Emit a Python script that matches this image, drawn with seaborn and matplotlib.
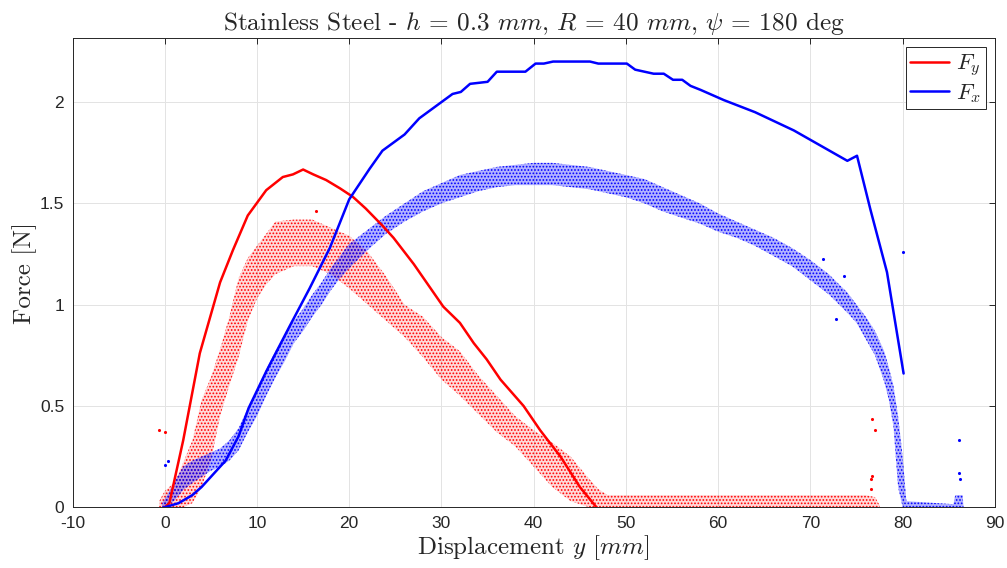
import numpy as np
import pandas as pd
import matplotlib
matplotlib.use('Agg')
import matplotlib.pyplot as plt
import seaborn as sns

# model curves (displacement in mm, force in N)
fy_x = [0, 0.5, 2.0, 3.8, 6.0, 7.4, 9.0, 11.0, 12.8, 13.9, 15.0, 16.1, 17.5, 19.0,
        20.4, 21.8, 23.6, 24.8, 27.0, 30.2, 32.0, 33.5, 34.9, 36.4, 38.9, 40.7,
        42.9, 45.0, 46.8]
fy_f = [0, 0.02, 0.33, 0.76, 1.11, 1.27, 1.44, 1.565, 1.63, 1.643, 1.667, 1.643,
        1.615, 1.574, 1.532, 1.474, 1.39, 1.33, 1.20, 0.99, 0.91, 0.81, 0.73, 0.63,
        0.50, 0.38, 0.25, 0.10, 0.0]

fx_x = [0, 1.5, 3.0, 4.0, 5.0, 6.6, 8.0, 9.1, 11.0, 13.5, 15.7, 17.9, 20.0, 22.2,
        23.6, 25.1, 26.0, 27.6, 29.1, 31.2, 32.1, 33.1, 35.0, 36.0, 39.1, 40.2,
        41.1, 42.1, 46.1, 47.0, 50.1, 51.0, 53.0, 54.1, 55.1, 56.1, 57.0, 58.1,
        60.6, 64.0, 68.2, 74.0, 75.05, 76.5, 78.3, 80.1]
fx_f = [0, 0.02, 0.06, 0.10, 0.15, 0.23, 0.35, 0.49, 0.67, 0.89, 1.08, 1.28, 1.52,
        1.67, 1.76, 1.81, 1.84, 1.92, 1.97, 2.04, 2.05, 2.09, 2.10, 2.15, 2.15, 2.19,
        2.19, 2.20, 2.20, 2.19, 2.19, 2.16, 2.14, 2.14, 2.11, 2.11, 2.08, 2.06,
        2.01, 1.95, 1.86, 1.71, 1.735, 1.47, 1.16, 0.66]

# measured scatter clouds: lower / upper edge of the band of points
red_x = [-0.6, 0, 1, 2, 3, 4, 5, 6, 7, 8, 9, 10, 11, 12, 14, 16, 18, 20, 22, 24,
         26, 28, 30, 32, 34, 36, 38, 40, 42, 44, 46, 47, 48, 60, 70, 76, 77, 77.5]
red_lo = [0, 0, 0, 0, 0.02, 0.10, 0.23, 0.45, 0.60, 0.74, 0.92, 1.03, 1.10, 1.15,
          1.19, 1.19, 1.15, 1.08, 1.00, 0.92, 0.84, 0.74, 0.63, 0.55, 0.46, 0.37,
          0.30, 0.20, 0.10, 0.03, 0, 0, 0, 0, 0, 0, 0, 0]
red_hi = [0.03, 0.08, 0.12, 0.22, 0.33, 0.53, 0.64, 0.78, 0.94, 1.13, 1.23, 1.29,
          1.35, 1.41, 1.42, 1.42, 1.38, 1.34, 1.26, 1.14, 1.00, 0.94, 0.84, 0.77,
          0.65, 0.55, 0.45, 0.38, 0.32, 0.25, 0.14, 0.09, 0.06, 0.06, 0.06, 0.06,
          0.05, 0.01]

blue_x = [-0.3, 0, 1, 2, 3, 4, 5, 6, 7, 8, 9, 10, 11, 12, 13, 14, 15, 16, 17, 18,
          19, 20, 22, 24, 26, 28, 30, 32, 34, 36, 38, 40, 42, 44, 46, 48, 50, 52,
          54, 56, 58, 60, 62, 64, 66, 68, 70, 72, 74, 75, 76, 77, 78, 78.5, 79,
          79.5, 80, 80.4, 85.5, 85.7, 86.5, 86.6]
blue_lo = [0, 0, 0.03, 0.085, 0.12, 0.15, 0.18, 0.20, 0.23, 0.28, 0.37, 0.45, 0.55,
           0.64, 0.72, 0.81, 0.87, 0.94, 1.00, 1.07, 1.13, 1.18, 1.27, 1.35, 1.41,
           1.46, 1.50, 1.53, 1.56, 1.58, 1.59, 1.59, 1.59, 1.58, 1.57, 1.55, 1.53,
           1.50, 1.46, 1.43, 1.40, 1.36, 1.33, 1.29, 1.24, 1.19, 1.12, 1.05, 0.96,
           0.91, 0.83, 0.75, 0.62, 0.53, 0.40, 0.10, 0, 0, 0, 0, 0, 0]
blue_hi = [0.02, 0.04, 0.12, 0.20, 0.23, 0.25, 0.27, 0.29, 0.33, 0.39, 0.49, 0.57,
           0.68, 0.77, 0.85, 0.92, 0.98, 1.05, 1.11, 1.18, 1.24, 1.30, 1.37, 1.44,
           1.50, 1.56, 1.60, 1.64, 1.66, 1.68, 1.69, 1.70, 1.70, 1.69, 1.68, 1.66,
           1.64, 1.62, 1.58, 1.54, 1.50, 1.45, 1.41, 1.37, 1.33, 1.28, 1.22, 1.15,
           1.06, 1.00, 0.94, 0.87, 0.77, 0.69, 0.60, 0.45, 0.25, 0.03, 0.015, 0.06,
           0.06, 0.0]

# isolated measured points away from the bands
red_out_x = [-0.6, 0.0, 16.4, 76.7, 77.0, 76.7, 76.6, 76.6]
red_out_y = [0.38, 0.37, 1.46, 0.436, 0.38, 0.156, 0.14, 0.09]
blue_out_x = [0.3, 0.0, 71.4, 73.6, 72.8, 80.0, 86.1, 86.1, 86.2]
blue_out_y = [0.23, 0.21, 1.225, 1.14, 0.93, 1.26, 0.33, 0.17, 0.14]

sns.set_theme(style="whitegrid")
plt.rcParams['font.family'] = ['Liberation Sans', 'DejaVu Sans']
plt.rcParams['mathtext.fontset'] = 'cm'
plt.rcParams['axes.unicode_minus'] = False
plt.rcParams['hatch.linewidth'] = 0.8

fig, ax = plt.subplots(figsize=(10.07, 5.68), dpi=100)
fig.subplots_adjust(left=0.072, right=0.988, bottom=0.107, top=0.933)
ax.set_facecolor('white')

# measurement clouds
ax.fill_between(red_x, red_lo, red_hi, facecolor=(1, 0, 0, 0.15),
                edgecolor='red', hatch='.....', linewidth=0)
ax.fill_between(blue_x, blue_lo, blue_hi, facecolor=(0, 0, 1, 0.3),
                edgecolor='blue', hatch='.....', linewidth=0)
sns.scatterplot(x=red_out_x, y=red_out_y, color='red', s=5, linewidth=0, ax=ax)
sns.scatterplot(x=blue_out_x, y=blue_out_y, color='blue', s=5, linewidth=0, ax=ax)

# model curves
df_fy = pd.DataFrame({'y': fy_x, 'F': fy_f})
df_fx = pd.DataFrame({'y': fx_x, 'F': fx_f})
sns.lineplot(data=df_fy, x='y', y='F', color='red', lw=1.8, sort=False,
             label=r'$F_y$', ax=ax)
sns.lineplot(data=df_fx, x='y', y='F', color='blue', lw=1.8, sort=False,
             label=r'$F_x$', ax=ax)

ax.set_xlim(-10, 90)
ax.set_ylim(0, 2.316)
ax.set_xticks(np.arange(-10, 91, 10))
ax.set_yticks([0, 0.5, 1, 1.5, 2])
ax.set_yticklabels(['0', '0.5', '1', '1.5', '2'])

ax.grid(True, color='#e3e3e3', lw=0.7)
for s in ax.spines.values():
    s.set_visible(True)
    s.set_color('#262626')
    s.set_linewidth(0.7)
ax.tick_params(direction='in', top=True, right=True, length=4, width=0.7,
               colors='#262626', labelsize=12.5, pad=6)

ax.set_title(r'Stainless Steel - $h$ = 0.3 $mm$, $R$ = 40 $mm$, $\psi$ = 180 deg',
             fontfamily='cmr10', fontsize=18.2, pad=6)
ax.set_xlabel(r'Displacement $y$ [$mm$]', fontfamily='cmr10', fontsize=18, labelpad=2)
ax.set_ylabel('Force [N]', fontfamily='cmr10', fontsize=18, labelpad=2)

leg = ax.legend(loc='upper right', fontsize=16.5, frameon=True, fancybox=False,
                framealpha=1, edgecolor='#262626', handlelength=1.7,
                borderpad=0.2, labelspacing=0.1, handletextpad=0.3,
                borderaxespad=0.4)
leg.get_frame().set_linewidth(0.7)

plt.savefig('out.png', dpi=100)
